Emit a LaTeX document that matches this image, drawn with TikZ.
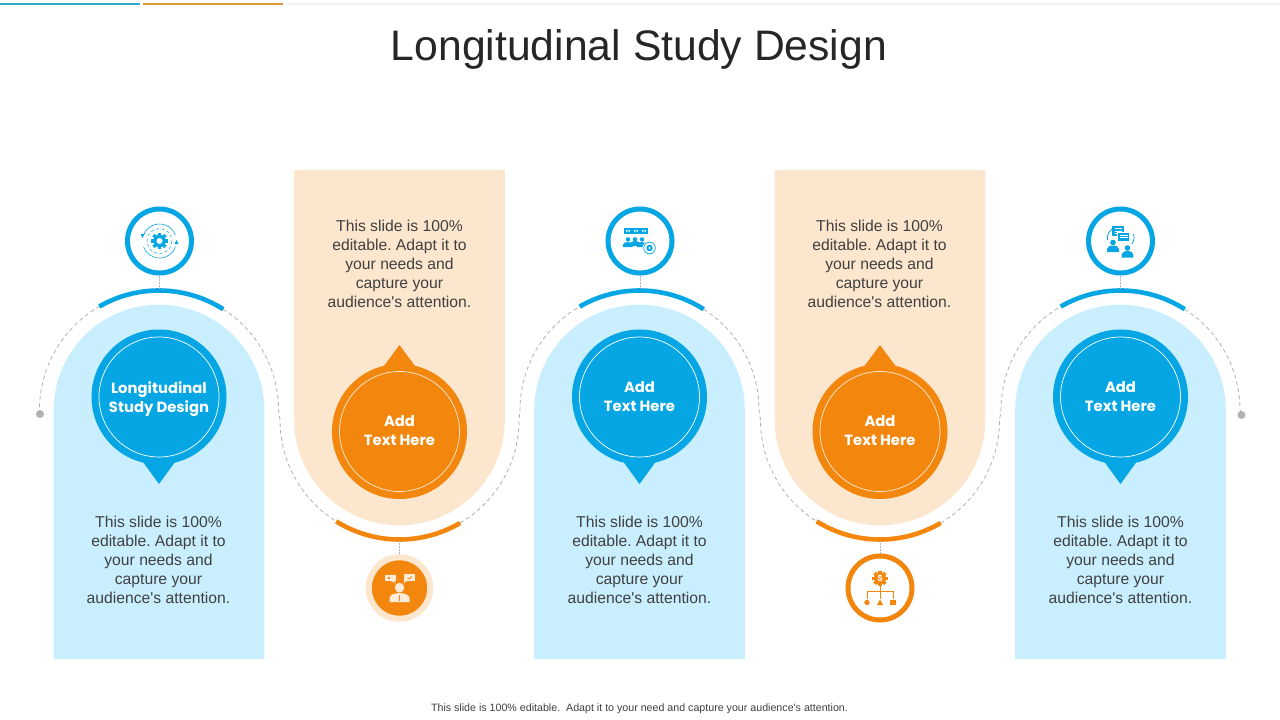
\documentclass[tikz,border=0pt]{standalone}
\usepackage{fontspec}
\setmainfont{Liberation Sans}
\newfontfamily\plainfont{Liberation Sans}
\newfontfamily\headfont{Poppins}
\usetikzlibrary{calc}
\definecolor{mainblue}{HTML}{05A6E3}
\definecolor{paleblue}{HTML}{C9EFFF}
\definecolor{mainorange}{HTML}{F3870D}
\definecolor{paleorange}{HTML}{FCE6CE}
\definecolor{iconwhite}{HTML}{FBEBD9}
\definecolor{dashgray}{HTML}{B2B2B2}
\definecolor{bodytext}{HTML}{404040}
\definecolor{titletext}{HTML}{262626}
\definecolor{barblue}{HTML}{2FA7CC}
\definecolor{barorange}{HTML}{DD9A33}
\tikzset{
  dashline/.style={draw=dashgray,line width=0.8pt,dash pattern=on 4pt off 3pt},
  bluearc/.style={draw=mainblue,line width=4.6pt},
  orangearc/.style={draw=mainorange,line width=4.6pt},
  bigdisc/.style={circle,minimum size=135pt,inner sep=0pt,fill=#1},
  disctext/.style={align=center,text=white,inner sep=0pt,
    font=\headfont\bfseries\fontsize{14.8}{19}\selectfont},
  ringicon/.style={circle,minimum size=64pt,inner sep=0pt,draw=#1,line width=5pt,fill=white},
  bodynote/.style={align=center,text=bodytext,font=\plainfont\frenchspacing\fontsize{15.7}{19}\selectfont,inner sep=0pt},
}
\begin{document}
\begin{tikzpicture}[x=1pt,y=-1pt]
\useasboundingbox (0,0) rectangle (1280,720);
\fill[white] (0,0) rectangle (1280,720);
% top rules
\fill[barblue] (0,3) rectangle (140,5);
\fill[barorange] (143,3) rectangle (283,5);
\fill[black!5] (287,3) rectangle (1280,5);
\node[text=titletext,font=\fontsize{42.7}{50}\selectfont,inner sep=0pt] (title) at (639,49.5) {Longitudinal Study Design};
% centres of the arches
\coordinate (p1) at (159,410);
\coordinate (p2) at (399.5,420);
\coordinate (p3) at (639.5,410);
\coordinate (p4) at (880,420);
\coordinate (p5) at (1120.5,410);
% panels
\foreach \c in {p1,p3,p5}{
  \fill[paleblue] ($(\c)+(-105.3,249)$) -- ($(\c)+(-105.3,0)$) arc[start angle=180,end angle=360,radius=105.3] -- ($(\c)+(105.3,249)$) -- cycle;
}
\foreach \c in {p2,p4}{
  \fill[paleorange] ($(\c)+(-105.3,-250)$) -- ($(\c)+(-105.3,0)$) arc[start angle=180,end angle=0,radius=105.3] -- ($(\c)+(105.3,-250)$) -- cycle;
}
% dashed route
\coordinate (dotl) at (40,414);
\coordinate (dotr) at (1241.5,415);
\draw[dashline] (dotl) -- ($(p1)+(-119.5,0)$) arc[start angle=180,end angle=240,radius=119.5];
\foreach \a/\b in {p1/p2,p3/p4}{
  \draw[dashline] ($(\a)+(302.5:119.5)$) arc[start angle=302.5,end angle=360,radius=119.5] -- ($(\b)+(-119.5,0)$) arc[start angle=180,end angle=122,radius=119.5];
}
\foreach \a/\b in {p2/p3,p4/p5}{
  \draw[dashline] ($(\a)+(59.5:119.5)$) arc[start angle=59.5,end angle=0,radius=119.5] -- ($(\b)+(-119.5,0)$) arc[start angle=180,end angle=240,radius=119.5];
}
\draw[dashline] ($(p5)+(302.5:119.5)$) arc[start angle=302.5,end angle=360,radius=119.5] -- (dotr);
\fill[black!30] (dotl) circle (4);
\fill[black!30] (dotr) circle (4);
% thick arcs
\foreach \c in {p1,p3,p5}{
  \draw[bluearc] ($(\c)+(240:119.5)$) arc[start angle=240,end angle=302.5,radius=119.5];
}
\foreach \c in {p2,p4}{
  \draw[orangearc] ($(\c)+(122:119.5)$) arc[start angle=122,end angle=59.5,radius=119.5];
}
% blue discs with pointers
\foreach \n/\x/\yy/\t in {d1/159/399.5/{Longitudinal\\Study Design},d3/639.5/397/{Add\\Text Here},d5/1120.5/397/{Add\\Text Here}}{
  \fill[mainblue] (\x-16,462) -- (\x,484) -- (\x+16,462) -- cycle;
  \node[bigdisc=mainblue] (\n) at (\x,397) {};
  \draw[white,line width=0.7pt] (\n.center) circle (60);
  \node[disctext] (\n t) at (\x,\yy) {\t};
}
% orange discs with pointers
\foreach \n/\x in {d2/399.5,d4/880}{
  \fill[mainorange] (\x-17,368) -- (\x,345) -- (\x+17,368) -- cycle;
  \node[bigdisc=mainorange] (\n) at (\x,431.5) {};
  \draw[iconwhite,line width=0.7pt] (\n.center) circle (60);
  \node[disctext] (\n t) at (\x,431) {Add\\Text Here};
}
% body notes
\foreach \n/\x in {n1/158.5,n3/639.5,n5/1120.5}{
  \node[bodynote] (\n) at (\x,560) {This slide is 100\%\\editable. Adapt it to\\your needs and\\capture your\\audience's attention.};
}
\foreach \n/\x in {n2/399.5,n4/879.5}{
  \node[bodynote] (\n) at (\x,264) {This slide is 100\%\\editable. Adapt it to\\your needs and\\capture your\\audience's attention.};
}
% icon circles
\node[ringicon=mainblue] (i1) at (159.5,241) {};
\node[ringicon=mainblue] (i3) at (640,241) {};
\node[ringicon=mainblue] (i5) at (1120.5,241) {};
\node[ringicon=mainorange] (i4) at (880,588) {};
\node[circle,minimum size=61.5pt,inner sep=0pt,fill=mainorange,draw=paleorange,line width=6pt] (i2) at (399.5,588) {};
% stems
\coordinate (t1) at (159.5,288);
\coordinate (t3) at (640,288);
\coordinate (t5) at (1120.5,288);
\coordinate (b2) at (399.5,541);
\coordinate (b4) at (880,541);
\draw[dashline,dash pattern=on 2pt off 1pt] (i1) -- (t1);
\draw[dashline,dash pattern=on 2pt off 1pt] (i3) -- (t3);
\draw[dashline,dash pattern=on 2pt off 1pt] (i5) -- (t5);
\draw[dashline,dash pattern=on 2pt off 1pt] (i2) -- (b2);
\draw[dashline,dash pattern=on 2pt off 1pt] (i4) -- (b4);
% icon 1: gear in cycle
\begin{scope}[shift={(i1.center)}]
  \foreach \r in {0,45,...,315}{\fill[mainblue,rotate=\r] (-1.6,-8.4) rectangle (1.6,-4);}
  \fill[mainblue] (0,0) circle (6.2);
  \fill[white] (0,0) circle (3);
  \draw[mainblue,line width=0.6pt] (200:17) arc[start angle=200,end angle=340,radius=17];
  \draw[mainblue,line width=0.6pt] (20:17) arc[start angle=20,end angle=160,radius=17];
  \draw[mainblue,line width=0.5pt,dash pattern=on 3pt off 2.5pt] (0,0) circle (12.5);
  \fill[mainblue] (-19,-7) -- (-15,-7) -- (-17,-3) -- cycle;
  \fill[mainblue] (19,3) -- (15,3) -- (17,-1) -- cycle;
\end{scope}
% icon 3: people and stars with gear
\begin{scope}[shift={(i3.center)}]
  \fill[mainblue] (-16,-13) rectangle (8,-7);
  \foreach \x in {-12,-4,4}{
    \fill[white] (\x,-11.8) -- (\x+1,-8.6) -- (\x+2.4,-10.6) -- (\x-2.4,-10.6) -- (\x-1,-8.6) -- cycle;
  }
  \foreach \x in {-12,-5,2}{
    \fill[mainblue] (\x,-1.6) circle (2.2);
  }
  \fill[mainblue] (-17,6) -- (-17,3.5) arc[start angle=180,end angle=360,x radius=4.8,y radius=2.5] -- (-7.4,6) -- cycle;
  \fill[mainblue] (-10,5) -- (-10,2.5) arc[start angle=180,end angle=360,x radius=5,y radius=2.5] -- (0,5) -- cycle;
  \fill[mainblue] (-3,6) -- (-3,3.5) arc[start angle=180,end angle=360,x radius=4.8,y radius=2.5] -- (6.6,6) -- cycle;
  \fill[white] (9.5,7) circle (7);
  \draw[mainblue,line width=0.7pt] (9.5,7) circle (5.8);
  \fill[mainblue] (9.5,7) circle (3.2);
  \fill[white] (9.5,7) circle (1.1);
\end{scope}
% icon 5: conversation
\begin{scope}[shift={(i5.center)}]
  \fill[mainblue] (-8.5,-15.5) rectangle (3.5,-5.5);
  \draw[white,line width=0.5pt] (-6,-12.5) -- (1,-12.5) (-6,-10) -- (1,-10) (-6,-7.5) -- (1,-7.5);
  \fill[mainblue,draw=white,line width=0.6pt] (-3,-8.5) rectangle (9,0);
  \draw[white,line width=0.5pt] (-1,-6) -- (7,-6) (-1,-3.5) -- (7,-3.5);
  \fill[mainblue] (-7.5,1.5) circle (2.8);
  \fill[mainblue] (-13.5,11) -- (-13.5,8) arc[start angle=180,end angle=360,x radius=6,y radius=3.5] -- (-1.5,11) -- cycle;
  \fill[mainblue] (7,7) circle (2.8);
  \fill[mainblue] (1.2,16.5) -- (1.2,13.5) arc[start angle=180,end angle=360,x radius=5.8,y radius=3.5] -- (12.8,16.5) -- cycle;
  \draw[mainblue,line width=0.8pt] (-13,-1) arc[start angle=170,end angle=250,radius=11];
  \draw[mainblue,line width=0.8pt] (13,-7) arc[start angle=340,end angle=400,radius=10];
\end{scope}
% icon 4: money hierarchy
\begin{scope}[shift={(i4.center)}]
  \foreach \r in {0,45,...,315}{\fill[mainorange,shift={(0,-9.7)},rotate=\r] (-1.8,-7.6) rectangle (1.8,-4);}
  \fill[mainorange] (0,-9.7) circle (6);
  \node[text=white,font=\bfseries\fontsize{9}{9}\selectfont,inner sep=0pt] (dollar) at (0,-9.7) {\$};
  \draw[mainorange,line width=0.9pt] (0,-2) -- (0,11) (-13,11) -- (-13,3) -- (13,3) -- (13,11);
  \fill[mainorange] (-13,14.5) circle (2.7);
  \fill[mainorange] (0,11.5) -- (3,17) -- (-3,17) -- cycle;
  \fill[mainorange] (10.3,12) rectangle (15.7,17);
\end{scope}
% icon 2: person with speech
\begin{scope}[shift={(i2.center)}]
  \fill[iconwhite] (-15,-13) rectangle (-4,-7);
  \fill[iconwhite] (-6,-7) -- (-3,-4.5) -- (-9,-7) -- cycle;
  \fill[mainorange] (-10.5,-10) circle (1.3);
  \fill[iconwhite] (4.5,-13.6) rectangle (15.5,-7.4);
  \fill[iconwhite] (6,-7.4) -- (3,-4.5) -- (9,-7.4) -- cycle;
  \draw[mainorange,line width=0.8pt] (8,-10) -- (10,-9) -- (12.5,-12);
  \fill[iconwhite] (0,-0.3) circle (4.8);
  \fill[iconwhite] (-10,14) -- (-10,10) arc[start angle=180,end angle=360,x radius=10,y radius=5] -- (10,14) -- cycle;
  \draw[mainorange,line width=0.8pt] (0,6.5) -- (0,13);
\end{scope}
% footer
\node[text=bodytext,font=\plainfont\frenchspacing\fontsize{10.66}{12}\selectfont,inner sep=0pt] (foot) at (639.5,708.5) {This slide is 100\% editable.\ \ Adapt it to your need and capture your audience's attention.};
\end{tikzpicture}
\end{document}
